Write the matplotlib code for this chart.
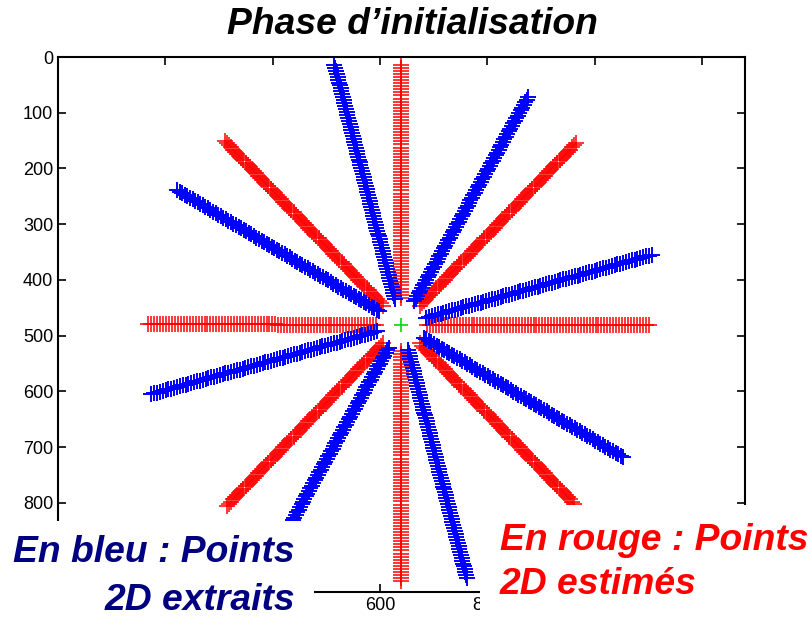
import numpy as np
import matplotlib
matplotlib.use('Agg')
import matplotlib.pyplot as plt
from matplotlib.patches import Rectangle

plt.rcParams['font.family'] = ['Liberation Sans', 'DejaVu Sans']

# image centre and rays (angle in degrees, length in pixels of the image)
center = (640, 480)
red_angles = [0, 45, 90, 135, 180, 225, 270, 315]
red_lengths = [464, 460, 466, 468, 473, 465, 460, 455]
blue_angles = [15, 60, 105, 150, 195, 240, 285, 330]
blue_lengths = [482, 476, 482, 482, 485, 480, 471, 479]
inner_radius = 48
step = 5.5

xticks = [200, 400, 600, 800, 1000, 1200]
xlabels = ['', '', '600', '800', '', '']   # the others sit under the captions
yticks = [0, 100, 200, 300, 400, 500, 600, 700, 800, 900]
ylabels = ['0', '100', '200', '300', '400', '500', '600', '700', '800', '']

fig = plt.figure(figsize=(8.12, 6.18), dpi=100)
ax = fig.add_axes([58 / 812, 1 - 592 / 618, 687 / 812, 535 / 618])


def ray_points(angle, length):
    r = np.arange(inner_radius, length + 1, step)
    a = np.deg2rad(angle)
    return center[0] + r * np.cos(a), center[1] - r * np.sin(a)


for ang, ln in zip(red_angles, red_lengths):
    x, y = ray_points(ang, ln)
    ax.plot(x, y, '+', color='#ff0000', markersize=11, mew=1.1)
for ang, ln in zip(blue_angles, blue_lengths):
    x, y = ray_points(ang, ln)
    ax.plot(x, y, '+', color='#0000ff', markersize=11.5, mew=1.4)
ax.plot([center[0]], [center[1]], '+', color='#00dd00', markersize=10, mew=1.2)

ax.set_xlim(0, 1280)
ax.set_ylim(960, 0)
ax.set_xticks(xticks)
ax.set_xticklabels(xlabels)
ax.set_yticks(yticks)
ax.set_yticklabels(ylabels)
ax.tick_params(direction='in', length=6, width=1.2, top=True, right=True,
               labelsize=13, colors='black')
for s in ax.spines.values():
    s.set_linewidth(1.5)

# white boxes with the captions on top of the plot
fig.add_artist(Rectangle((0, 0), 314 / 812, 1 - 521 / 618, transform=fig.transFigure,
                         facecolor='white', edgecolor='none', zorder=5))
fig.add_artist(Rectangle((480 / 812, 0), 1, 1 - 505 / 618, transform=fig.transFigure,
                         facecolor='white', edgecolor='none', zorder=5))

fs = 26.8
fig.text(0.508, 1 - 25 / 618, 'Phase d\u2019initialisation', ha='center', va='center',
         fontsize=fs, fontweight='bold', fontstyle='italic', zorder=6)
fig.text(295 / 812, 1 - 553 / 618, 'En bleu : Points', ha='right', va='center',
         fontsize=fs, fontweight='bold', fontstyle='italic', color='#000080', zorder=6)
fig.text(295 / 812, 1 - 600 / 618, '2D extraits', ha='right', va='center',
         fontsize=fs, fontweight='bold', fontstyle='italic', color='#000080', zorder=6)
fig.text(500 / 812, 1 - 540 / 618, 'En rouge : Points', ha='left', va='center',
         fontsize=fs, fontweight='bold', fontstyle='italic', color='#ff0000', zorder=6)
fig.text(500 / 812, 1 - 585 / 618, '2D estim\u00e9s', ha='left', va='center',
         fontsize=fs, fontweight='bold', fontstyle='italic', color='#ff0000', zorder=6)

fig.savefig('out.png', dpi=100)
